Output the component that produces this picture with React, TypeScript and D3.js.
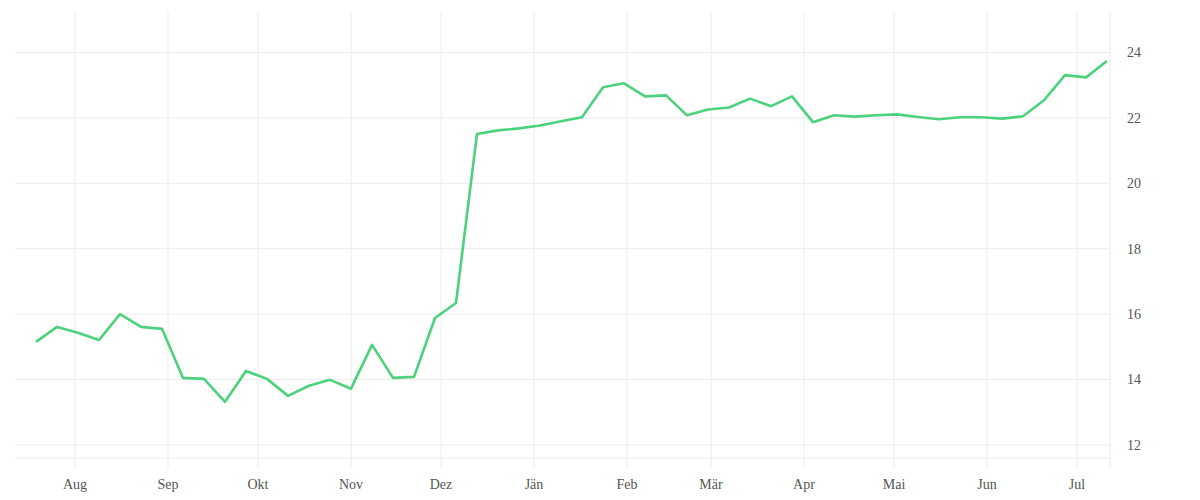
import React from 'react';
import * as d3 from 'd3';

// weekly observations
const dates = [
  '2022-07-19', '2022-07-26', '2022-08-02', '2022-08-09', '2022-08-16', '2022-08-23', '2022-08-30',
  '2022-09-06', '2022-09-13', '2022-09-20', '2022-09-27', '2022-10-04', '2022-10-11', '2022-10-18',
  '2022-10-25', '2022-11-01', '2022-11-08', '2022-11-15', '2022-11-22', '2022-11-29', '2022-12-06',
  '2022-12-13', '2022-12-20', '2022-12-27', '2023-01-03', '2023-01-10', '2023-01-17', '2023-01-24',
  '2023-01-31', '2023-02-07', '2023-02-14', '2023-02-21', '2023-02-28', '2023-03-07', '2023-03-14',
  '2023-03-21', '2023-03-28', '2023-04-04', '2023-04-11', '2023-04-18', '2023-04-25', '2023-05-02',
  '2023-05-09', '2023-05-16', '2023-05-23', '2023-05-30', '2023-06-06', '2023-06-13', '2023-06-20',
  '2023-06-27', '2023-07-04', '2023-07-11',
];

const values = [
  15.15, 15.61, 15.43, 15.21, 16.0, 15.61, 15.55,
  14.05, 14.02, 13.32, 14.26, 14.02, 13.5, 13.81,
  13.99, 13.72, 15.06, 14.05, 14.08, 15.88, 16.34,
  21.51, 21.62, 21.68, 21.77, 21.9, 22.02, 22.94,
  23.06, 22.66, 22.69, 22.08, 22.26, 22.32, 22.59,
  22.36, 22.66, 21.87, 22.08, 22.04, 22.08, 22.11,
  22.03, 21.96, 22.02, 22.02, 21.98, 22.05, 22.54,
  23.31, 23.24, 23.74,
];

const monthTicks = [
  '2022-08-01', '2022-09-01', '2022-10-01', '2022-11-01', '2022-12-01', '2023-01-01',
  '2023-02-01', '2023-03-01', '2023-04-01', '2023-05-01', '2023-06-01', '2023-07-01',
];
const monthLabels = ['Aug', 'Sep', 'Okt', 'Nov', 'Dez', 'Jän', 'Feb', 'Mär', 'Apr', 'Mai', 'Jun', 'Jul'];

const yTicks = [12, 14, 16, 18, 20, 22, 24];

const parse = d3.utcParse('%Y-%m-%d');

export default function App() {
  const width = 1200;
  const height = 500;
  const margin = { top: 12, right: 90, bottom: 42, left: 15 };
  const innerRight = width - margin.right;
  const innerBottom = height - margin.bottom;

  const x = d3.scaleUtc()
    .domain([parse('2022-07-12')!, parse('2023-07-12')!])
    .range([margin.left, innerRight]);

  const y = d3.scaleLinear()
    .domain([11.6, 25.24])
    .range([innerBottom, margin.top]);

  const points = dates.map((d, i) => ({ date: parse(d)!, value: values[i] }));

  const line = d3.line<{ date: Date; value: number }>()
    .x(d => x(d.date))
    .y(d => y(d.value));

  const gridColor = '#ececec';
  const labelColor = '#555';

  return (
    <svg
      width={width}
      height={height}
      style={{ position: 'absolute', left: 0, top: 0, display: 'block', background: '#fff' }}
    >
      {/* horizontal grid */}
      {yTicks.map(t => (
        <line key={t} x1={margin.left} x2={innerRight} y1={y(t)} y2={y(t)} stroke={gridColor} strokeWidth={1} />
      ))}
      <line x1={margin.left} x2={innerRight} y1={innerBottom} y2={innerBottom} stroke={gridColor} strokeWidth={1} />

      {/* vertical grid at month starts */}
      {monthTicks.map(m => {
        const xp = x(parse(m)!);
        return <line key={m} x1={xp} x2={xp} y1={margin.top} y2={innerBottom + 10} stroke={gridColor} strokeWidth={1} />;
      })}
      <line x1={innerRight} x2={innerRight} y1={margin.top} y2={innerBottom + 10} stroke={gridColor} strokeWidth={1} />

      {/* x labels */}
      {monthTicks.map((m, i) => (
        <text
          key={'l' + m}
          x={x(parse(m)!)}
          y={489}
          textAnchor="middle"
          fontSize={14}
          fill={labelColor}
        >
          {monthLabels[i]}
        </text>
      ))}

      {/* y labels */}
      {yTicks.map(t => (
        <text key={'y' + t} x={innerRight + 24} y={y(t)} dy="0.35em" textAnchor="middle" fontSize={14} fill={labelColor}>
          {t}
        </text>
      ))}

      <path d={line(points) ?? ''} fill="none" stroke="#4cd27c" strokeWidth={2.6} strokeLinejoin="round" />
    </svg>
  );
}
